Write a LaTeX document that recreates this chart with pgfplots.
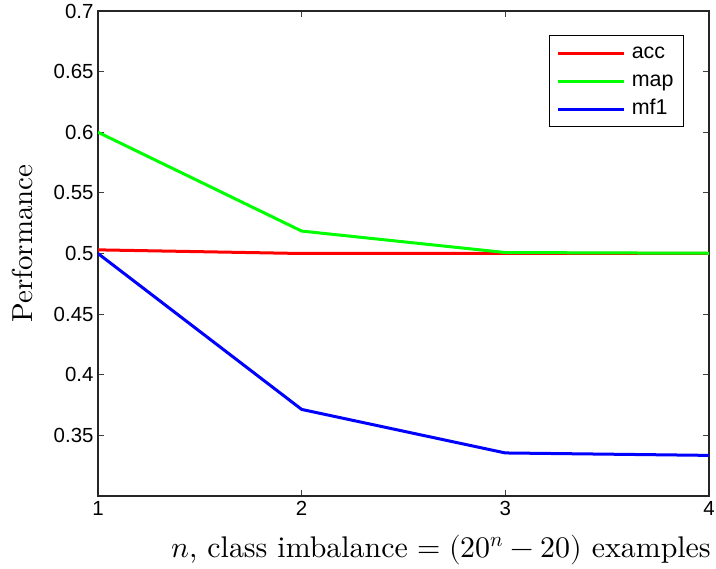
\documentclass[border=0pt]{standalone}
\usepackage{fontspec}
\usepackage{unicode-math}
\setmathfont{Latin Modern Math}
\usepackage{pgfplots}
\pgfplotsset{compat=1.18}
\newfontfamily\hv{Liberation Sans}
\newfontfamily\lmten{lmroman10-regular.otf}
\begin{document}
\begin{tikzpicture}
\begin{axis}[
  scale only axis,
  width=611bp, height=485bp,
  xmin=1, xmax=4, ymin=0.3, ymax=0.7,
  xtick={1,2,3,4},
  ytick={0.35,0.4,0.45,0.5,0.55,0.6,0.65,0.7},
  yticklabels={0.35,0.4,0.45,0.5,0.55,0.6,0.65,0.7},
  tick pos=both, tick align=inside,
  major tick length=6bp,
  axis line style={line width=1.1bp, black!85},
  every tick/.style={line width=1bp, black!75},
  /pgf/number format/assume math mode=true,
  ticklabel style={font=\hv\fontsize{20.5}{24}\selectfont},
  xticklabel style={yshift=-2bp},
  yticklabel style={xshift=-1bp},
  xlabel={$n$, class imbalance $= (20^n - 20)$ examples},
  ylabel={Performance},
  xlabel style={font=\lmten\fontsize{30}{36}\selectfont,
    at={(axis description cs:0.5614,-0.1258)}, anchor=base},
  ylabel style={font=\lmten\fontsize{29}{34}\selectfont,
    at={(axis description cs:-0.1064,0.5206)}, anchor=base},
  legend style={at={(0.959,0.9505)}, anchor=north east, draw=black, line width=1bp,
    font=\hv\fontsize{21.5}{24}\selectfont, inner xsep=7bp, inner ysep=3.5bp,
    row sep=0bp, column sep=3bp,
    nodes={inner xsep=3bp, inner ysep=4bp, text height=15bp, text depth=5bp}},
  legend cell align=left,
  legend image code/.code={\draw[#1] (0bp,0bp) -- (66bp,0bp);},
]
\addplot[red, line width=3bp] coordinates {(1,0.503) (2,0.5) (3,0.5) (4,0.5)};
\addplot[green, line width=3bp] coordinates {(1,0.6) (2,0.5185) (3,0.5008) (4,0.5002)};
\addplot[blue, line width=3bp] coordinates {(1,0.5) (2,0.3714) (3,0.3355) (4,0.3335)};
\legend{acc,map,mf1}
\end{axis}
\pgfresetboundingbox
\path[use as bounding box] (-98bp,-73bp) rectangle (618bp,496bp);
\end{tikzpicture}
\end{document}
